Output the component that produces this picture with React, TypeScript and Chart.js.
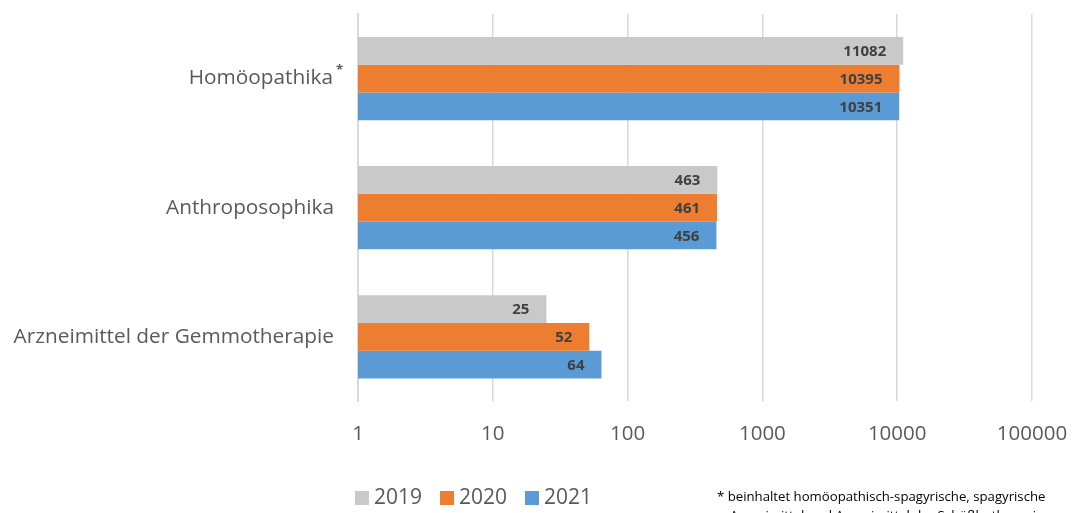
import React, { useEffect, useRef } from "react";
import { Chart, registerables } from "chart.js";

Chart.register(...registerables);

const categories = ["Homöopathika", "Anthroposophika", "Arzneimittel der Gemmotherapie"];
const seriesLabels = ["2019", "2020", "2021"];
const values2019 = [11082, 463, 25];
const values2020 = [10395, 461, 52];
const values2021 = [10351, 456, 64];
const tickValues = [1, 10, 100, 1000, 10000, 100000];
const footnoteLines = [
  "* beinhaltet homöopathisch-spagyrische, spagyrische",
  "Arzneimittel und Arzneimittel der Schüßlertherapie",
];

const colors = ["#C9C9C9", "#ED7D31", "#5B9BD5"];
const FONT = "'Open Sans', 'Noto Sans', sans-serif";
const TEXT = "#595959";

export default function App() {
  const ref = useRef<HTMLCanvasElement>(null);
  useEffect(() => {
    const canvas = ref.current!;
    const overlay = {
      id: "overlay",
      afterDatasetsDraw(chart: any) {
        const ctx = chart.ctx;
        ctx.save();
        // data labels
        ctx.font = `bold 15px ${FONT}`;
        ctx.fillStyle = "#404040";
        ctx.textAlign = "right";
        ctx.textBaseline = "middle";
        chart.data.datasets.forEach((ds: any, di: number) => {
          const meta = chart.getDatasetMeta(di);
          meta.data.forEach((bar: any, i: number) => {
            ctx.fillText(String(ds.data[i]), bar.x - 17, bar.y + 1);
          });
        });
        // category labels
        const yScale = chart.scales.y;
        ctx.font = `20.8px ${FONT}`;
        ctx.fillStyle = TEXT;
        categories.forEach((c, i) => {
          const y = yScale.getPixelForValue(i);
          const right = i === 0 ? 333 : 334;
          ctx.textAlign = "right";
          ctx.fillText(c, right, y);
          if (i === 0) {
            ctx.font = `bold 13px ${FONT}`;
            ctx.textAlign = "left";
            ctx.fillText("*", right + 3, y - 8);
            ctx.font = `20.8px ${FONT}`;
          }
        });
        // legend
        ctx.textAlign = "left";
        ctx.font = `21px ${FONT}`;
        const lx = [355, 440, 525];
        seriesLabels.forEach((s, i) => {
          ctx.fillStyle = colors[i];
          ctx.fillRect(lx[i], 491, 14, 14);
          ctx.fillStyle = TEXT;
          ctx.fillText(s, lx[i] + 19, 498);
        });
        // footnote
        ctx.fillStyle = "#000000";
        ctx.font = `13.2px ${FONT}`;
        ctx.fillText(footnoteLines[0], 717, 497);
        ctx.fillText(footnoteLines[1], 730, 516);
        ctx.restore();
      },
    };
    const chart = new Chart(canvas, {
      type: "bar",
      data: {
        labels: categories,
        datasets: [
          { label: seriesLabels[0], data: values2019, backgroundColor: colors[0] },
          { label: seriesLabels[1], data: values2020, backgroundColor: colors[1] },
          { label: seriesLabels[2], data: values2021, backgroundColor: colors[2] },
        ],
      },
      options: {
        indexAxis: "y",
        animation: false,
        responsive: false,
        maintainAspectRatio: false,
        layout: { padding: { left: 358, right: 40, top: 14, bottom: 47 } },
        datasets: { bar: { categoryPercentage: 0.645, barPercentage: 1 } },
        plugins: { legend: { display: false }, tooltip: { enabled: false } },
        scales: {
          x: {
            type: "logarithmic",
            min: 1,
            max: 100000,
            afterBuildTicks: (axis: any) => {
              axis.ticks = tickValues.map((v) => ({ value: v }));
            },
            afterFit: (axis: any) => {
              axis.paddingLeft = 0;
              axis.paddingRight = 0;
            },
            grid: { color: "#D9D9D9", lineWidth: 1.5, drawTicks: false },
            border: { display: false },
            ticks: {
              padding: 20,
              color: TEXT,
              font: { family: FONT, size: 20.5 },
              callback: (v: any) => String(v),
              maxRotation: 0,
              autoSkip: false,
            },
          },
          y: {
            display: true,
            grid: { display: false, drawTicks: false },
            border: { display: true, color: "#D9D9D9", width: 2 },
            ticks: { display: false },
          },
        },
      },
      plugins: [overlay],
    });
    return () => chart.destroy();
  }, []);
  return (
    <div style={{ position: "fixed", left: 0, top: 0, width: 1072, height: 513, background: "#fff" }}>
      <canvas ref={ref} width={1072} height={513} style={{ width: 1072, height: 513 }} />
    </div>
  );
}
